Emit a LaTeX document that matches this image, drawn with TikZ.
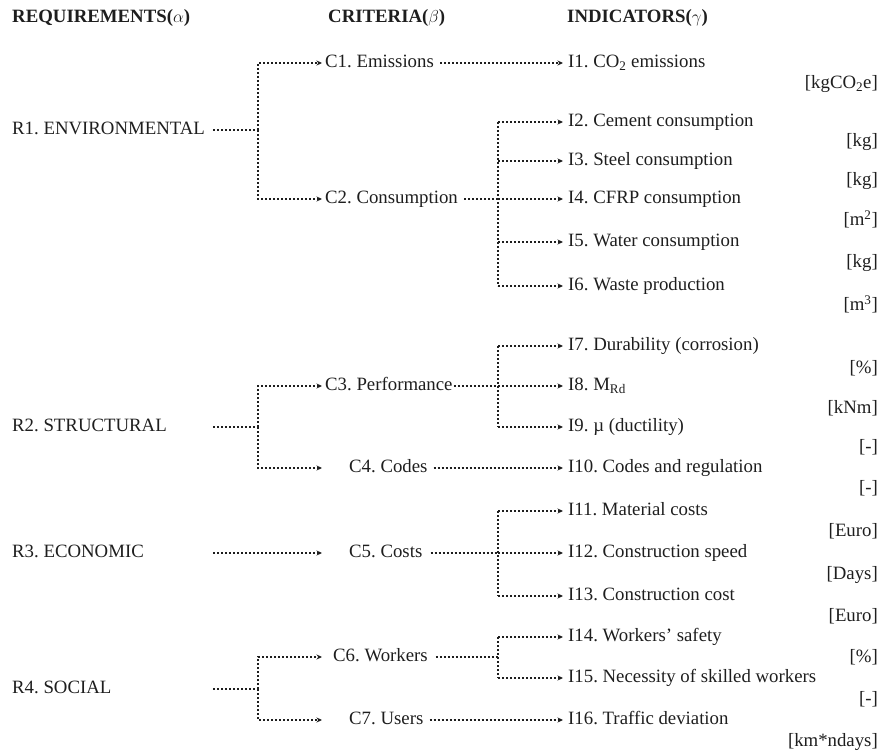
\documentclass[tikz,border=0pt]{standalone}
\usepackage{fontspec}
\setmainfont{Liberation Serif}
\usetikzlibrary{arrows.meta}
\definecolor{ink}{HTML}{1E1E1E}
\frenchspacing
\begin{document}
\begin{tikzpicture}[x=1pt,y=-1pt,
  font=\fontsize{18.8}{22}\selectfont,
  txt/.style={inner sep=0pt, text=ink, text height=13pt, text depth=4pt},
  lab/.style={txt, anchor=west},
  unit/.style={txt, anchor=east},
  hdr/.style={txt, anchor=west, font=\fontsize{18.8}{22}\selectfont\bfseries},
  dl/.style={draw=ink, line width=1.3pt, dash pattern=on 2pt off 2pt},
  arr/.style={dl, -{Stealth[length=5.5pt,width=5pt]}}]
\path[use as bounding box] (0,0) rectangle (881,752);

% headers
\node[hdr] (hR) at (12,18) {REQUIREMENTS($\alpha$)};
\node[hdr] (hC) at (328,18) {CRITERIA($\beta$)};
\node[hdr] (hI) at (567,18) {INDICATORS($\gamma$)};

% requirements
\node[lab] (R1) at (12,130) {R1. ENVIRONMENTAL};
\node[lab] (R2) at (12,427) {R2. STRUCTURAL};
\node[lab] (R3) at (12,553) {R3. ECONOMIC};
\node[lab] (R4) at (12,689) {R4. SOCIAL};

% criteria
\node[lab] (C1) at (325,63) {C1. Emissions};
\node[lab] (C2) at (325,199) {C2. Consumption};
\node[lab] (C3) at (325,386) {C3. Performance};
\node[lab] (C4) at (349,468) {C4. Codes};
\node[lab] (C5) at (349,553) {C5. Costs};
\node[lab] (C6) at (333,657) {C6. Workers};
\node[lab] (C7) at (349,720) {C7. Users};

% indicators
\node[lab] (I1) at (568,63) {I1. CO\textsubscript{2} emissions};
\node[lab] (I2) at (568,122) {I2. Cement consumption};
\node[lab] (I3) at (568,161) {I3. Steel consumption};
\node[lab] (I4) at (568,199) {I4. CFRP consumption};
\node[lab] (I5) at (568,242) {I5. Water consumption};
\node[lab] (I6) at (568,286) {I6. Waste production};
\node[lab] (I7) at (568,346) {I7. Durability (corrosion)};
\node[lab] (I8) at (568,386) {I8. M\textsubscript{Rd}};
\node[lab] (I9) at (568,427) {I9. µ (ductility)};
\node[lab] (I10) at (568,468) {I10. Codes and regulation};
\node[lab] (I11) at (568,511) {I11. Material costs};
\node[lab] (I12) at (568,553) {I12. Construction speed};
\node[lab] (I13) at (568,596) {I13. Construction cost};
\node[lab] (I14) at (568,637) {I14. Workers’ safety};
\node[lab] (I15) at (568,678) {I15. Necessity of skilled workers};
\node[lab] (I16) at (568,720) {I16. Traffic deviation};

% units
\node[unit] (U1) at (878,84) {[kgCO\textsubscript{2}e]};
\node[unit] (U2) at (878,142) {[kg]};
\node[unit] (U3) at (878,181) {[kg]};
\node[unit] (U4) at (878,221) {[m\textsuperscript{2}]};
\node[unit] (U5) at (878,263) {[kg]};
\node[unit] (U6) at (878,306) {[m\textsuperscript{3}]};
\node[unit] (U7) at (878,369) {[\%]};
\node[unit] (U8) at (878,409) {[kNm]};
\node[unit] (U9) at (878,448) {[-]};
\node[unit] (U10) at (878,489) {[-]};
\node[unit] (U11) at (878,532) {[Euro]};
\node[unit] (U12) at (878,575) {[Days]};
\node[unit] (U13) at (878,617) {[Euro]};
\node[unit] (U14) at (878,658) {[\%]};
\node[unit] (U15) at (878,700) {[-]};
\node[unit] (U16) at (878,742) {[km*ndays]};

% junction coordinates
\coordinate (s1) at (213,130);
\coordinate (jR1) at (258,130);
\coordinate (s2) at (213,427);
\coordinate (jR2) at (258,427);
\coordinate (s3) at (213,553);
\coordinate (s4) at (213,689);
\coordinate (jR4) at (258,689);
\coordinate (jI) at (498,0);

% requirement -> criteria
\draw[dl] (s1) -- (jR1);
\draw[arr] (jR1) |- ([xshift=-3pt]C1.west);
\draw[arr] (jR1) |- ([xshift=-3pt]C2.west);
\draw[dl] (s2) -- (jR2);
\draw[arr] (jR2) |- ([xshift=-3pt]C3.west);
\draw[arr] (jR2) |- ([xshift=-27pt]C4.west);
\draw[arr] (s3) -- ([xshift=-27pt]C5.west);
\draw[dl] (s4) -- (jR4);
\draw[arr] (jR4) |- ([xshift=-11pt]C6.west);
\draw[arr] (jR4) |- ([xshift=-27pt]C7.west);

% criteria -> indicators
\draw[arr] ([xshift=6pt]C1.east) -- ([xshift=-5pt]I1.west);
\draw[arr] ([xshift=6pt]C4.east) -- ([xshift=-5pt]I10.west);
\draw[arr] ([xshift=6pt]C7.east) -- ([xshift=-5pt]I16.west);

\draw[dl] ([xshift=6pt]C2.east) -- (jI |- C2.east);
\draw[dl] (jI |- I2.west) -- (jI |- I6.west);
\foreach \i in {I2,I3,I4,I5,I6}
  \draw[arr] (jI |- \i.west) -- ([xshift=-5pt]\i.west);

\draw[dl] ([xshift=1pt]C3.east) -- (jI |- C3.east);
\draw[dl] (jI |- I7.west) -- (jI |- I9.west);
\foreach \i in {I7,I8,I9}
  \draw[arr] (jI |- \i.west) -- ([xshift=-5pt]\i.west);

\draw[dl] ([xshift=8pt]C5.east) -- (jI |- C5.east);
\draw[dl] (jI |- I11.west) -- (jI |- I13.west);
\foreach \i in {I11,I12,I13}
  \draw[arr] (jI |- \i.west) -- ([xshift=-5pt]\i.west);

\draw[dl] ([xshift=8pt]C6.east) -- (jI |- C6.east);
\draw[dl] (jI |- I14.west) -- (jI |- I15.west);
\foreach \i in {I14,I15}
  \draw[arr] (jI |- \i.west) -- ([xshift=-5pt]\i.west);
\end{tikzpicture}
\end{document}
